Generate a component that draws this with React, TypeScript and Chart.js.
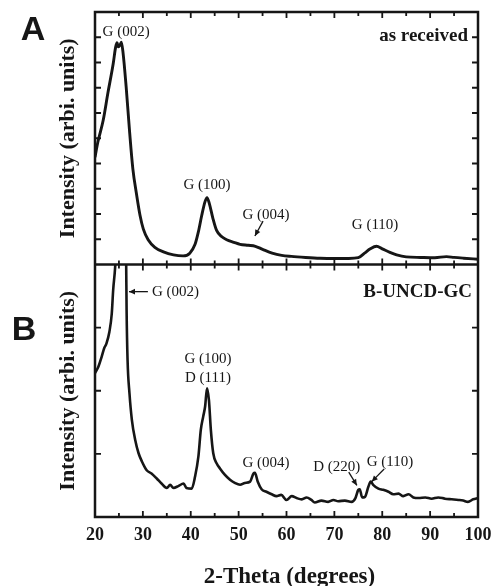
import React, { useEffect, useRef } from "react";
import { Chart, registerables } from "chart.js";

Chart.register(...registerables);

// ---------- data ----------
const thetaA = [
  20, 20.6, 21.7, 22.7, 23.8, 24.3, 24.6, 24.9, 25.2, 25.5, 25.85, 26.5, 27.25, 27.9, 28.7, 29.4, 30.1, 31.1, 32.5, 34.3,
  36.4, 38.4, 39.8, 40.9, 41.6, 42.3, 43.0, 43.4, 43.9, 44.6, 45.4, 46.5, 47.5, 49, 50.3, 52, 53.5, 55, 57, 59,
  61, 64, 67, 70, 73, 75, 76.3, 77.5, 78.8, 80, 81.6, 83, 85, 88, 91, 93.4, 95, 97, 100,
];
const intensityA = [
  4.25, 4.85, 5.7, 6.8, 7.95, 8.6, 8.78, 8.62, 8.68, 8.8, 8.4, 7.05, 5.2, 3.8, 2.75, 1.95, 1.4, 0.98, 0.68, 0.5,
  0.38, 0.34, 0.45, 0.8, 1.3, 1.95, 2.5, 2.65, 2.4, 1.85, 1.35, 1.1, 0.98, 0.88, 0.8, 0.76, 0.72, 0.6, 0.45, 0.36,
  0.32, 0.28, 0.25, 0.24, 0.24, 0.27, 0.45, 0.62, 0.72, 0.62, 0.48, 0.38, 0.3, 0.28, 0.27, 0.31, 0.28, 0.25, 0.21,
];

const thetaB = [
  20, 20.7, 21.4, 21.9, 22.4, 23.0, 23.5, 23.8, 24.2, 24.6, 25.2, 25.8, 26.3, 26.5, 26.6, 26.8, 27.2, 27.7, 28.4, 29.1,
  29.8, 30.8, 31.8, 32.9, 33.9, 35, 35.7, 36.4, 37.4, 38.5, 39.1, 40.2, 40.9, 41.6, 42.1, 42.6, 43, 43.4, 43.8, 44.2,
  44.7, 45.4, 46.1, 47.1, 48.2, 49.2, 50.3, 51.3, 52.4, 53.1, 53.4, 54, 54.8, 55.8, 56.9, 57.9, 58.9, 60, 61.1, 62.1,
  63.2, 64.2, 65.2, 65.9, 67.3, 68.7, 69.8, 70.8, 72.2, 73.6, 74.4, 75, 75.3, 75.8, 76.4, 77.1, 77.6, 78.1, 79.2, 80.2,
  81.3, 82.3, 83.4, 84.4, 85.5, 86.5, 87.6, 89, 90.3, 91.7, 93.1, 94.5, 95.9, 96.9, 97.9, 99, 100,
];
const intensityB = [
  2.28, 2.38, 2.54, 2.67, 2.75, 2.93, 3.22, 3.6, 3.95, 4.6, 5.4, 5.2, 4.5, 4.1, 3.28, 2.49, 1.96, 1.54, 1.22, 1.01,
  0.88, 0.74, 0.69, 0.61, 0.53, 0.46, 0.51, 0.46, 0.49, 0.53, 0.46, 0.45, 0.64, 0.96, 1.38, 1.59, 1.75, 2.04, 1.85, 1.38,
  1.01, 0.85, 0.77, 0.67, 0.59, 0.54, 0.51, 0.54, 0.56, 0.69, 0.7, 0.56, 0.44, 0.4, 0.36, 0.33, 0.35, 0.27, 0.33, 0.3,
  0.28, 0.31, 0.27, 0.23, 0.26, 0.24, 0.27, 0.25, 0.26, 0.24, 0.3, 0.43, 0.44, 0.31, 0.32, 0.48, 0.56, 0.51, 0.45, 0.43,
  0.4, 0.36, 0.37, 0.33, 0.36, 0.31, 0.3, 0.31, 0.29, 0.31, 0.29, 0.28, 0.27, 0.26, 0.24, 0.28, 0.3,
];

const xTickLabels = [20, 30, 40, 50, 60, 70, 80, 90, 100];
const xMinorTicks = [25, 35, 45, 55, 65, 75, 85, 95];
const yTicksA = [1, 2, 3, 4, 5, 6, 7, 8, 9];
const yTicksB = [1, 2, 3];

const xTitle = "2-Theta (degrees)";
const yTitle = "Intensity (arbi. units)";
const panelLetters = ["A", "B"];
const sampleNames = ["as received", "B-UNCD-GC"];

// peak annotations: [panel, text, theta, intensity]
const peakLabels: [string, string, number, number][] = [
  ["A", "G (002)", 26.5, 9.2],
  ["A", "G (100)", 43.4, 3.15],
  ["A", "G (004)", 55.7, 1.96],
  ["A", "G (110)", 78.5, 1.56],
  ["B", "G (100)", 43.6, 2.5],
  ["B", "D (111)", 43.6, 2.2],
  ["B", "G (004)", 55.7, 0.86],
  ["B", "D (220)", 70.5, 0.79],
  ["B", "G (110)", 81.6, 0.87],
];
// arrows: [panel, fromTheta, fromI, toTheta, toI]
const peakArrows: [string, number, number, number, number][] = [
  ["A", 55.1, 1.72, 53.4, 1.13],
  ["B", 31.05, 3.57, 27.1, 3.57],
  ["B", 73.0, 0.71, 74.7, 0.5],
  ["B", 80.4, 0.76, 77.8, 0.56],
];
const sideLabelB = { text: "G (002)", theta: 31.9, intensity: 3.57 };

const SERIF = '"Liberation Serif", "Times New Roman", serif';
const SANS = '"Liberation Sans", Arial, sans-serif';
const INK = "#161616";

export default function App() {
  const ref = useRef<HTMLCanvasElement | null>(null);

  useEffect(() => {
    const canvas = ref.current;
    if (!canvas) return;

    const clipPlugin = {
      id: "panelClip",
      beforeDatasetDraw(chart: any, args: any) {
        const { ctx, chartArea } = chart;
        const mid = chart.scales.yA.getPixelForValue(0);
        ctx.save();
        ctx.beginPath();
        if (args.index === 0) {
          ctx.rect(chartArea.left, chartArea.top, chartArea.right - chartArea.left, mid - chartArea.top);
        } else {
          ctx.rect(chartArea.left, mid, chartArea.right - chartArea.left, chartArea.bottom - mid);
        }
        ctx.clip();
      },
      afterDatasetDraw(chart: any) {
        chart.ctx.restore();
      },
    };

    const decorPlugin = {
      id: "decor",
      afterDraw(chart: any) {
        const { ctx, chartArea } = chart;
        const x = chart.scales.x;
        const yA = chart.scales.yA;
        const yB = chart.scales.yB;
        const L = chartArea.left, R = chartArea.right, T = chartArea.top, B = chartArea.bottom;
        const M = yA.getPixelForValue(0);
        ctx.save();
        ctx.strokeStyle = INK;
        ctx.fillStyle = INK;
        ctx.lineCap = "butt";

        // frame
        ctx.lineWidth = 2.5;
        ctx.strokeRect(L, T, R - L, B - T);
        ctx.beginPath();
        ctx.moveTo(L, M);
        ctx.lineTo(R, M);
        ctx.stroke();

        // x ticks (inward, on every horizontal edge)
        ctx.lineWidth = 1.8;
        const drawXTick = (v: number, len: number) => {
          const px = x.getPixelForValue(v);
          ctx.beginPath();
          ctx.moveTo(px, T); ctx.lineTo(px, T + len);
          ctx.moveTo(px, M); ctx.lineTo(px, M - len);
          ctx.moveTo(px, M); ctx.lineTo(px, M + len);
          ctx.moveTo(px, B); ctx.lineTo(px, B - len);
          ctx.stroke();
        };
        xTickLabels.forEach((v) => drawXTick(v, 6));
        xMinorTicks.forEach((v) => drawXTick(v, 4));

        // y ticks
        const drawYTick = (py: number) => {
          ctx.beginPath();
          ctx.moveTo(L, py); ctx.lineTo(L + 6, py);
          ctx.moveTo(R, py); ctx.lineTo(R - 6, py);
          ctx.stroke();
        };
        yTicksA.forEach((v) => drawYTick(yA.getPixelForValue(v)));
        yTicksB.forEach((v) => drawYTick(yB.getPixelForValue(v)));

        // x tick labels
        ctx.font = `bold 18px ${SERIF}`;
        ctx.textAlign = "center";
        ctx.textBaseline = "alphabetic";
        xTickLabels.forEach((v) => ctx.fillText(String(v), x.getPixelForValue(v), B + 23));

        // x title
        ctx.font = `bold 23px ${SERIF}`;
        ctx.fillText(xTitle, (L + R) / 2 + 3, B + 66);

        // y titles
        ctx.font = `bold 22px ${SERIF}`;
        [(T + M) / 2, (M + B) / 2].forEach((cy) => {
          ctx.save();
          ctx.translate(L - 21, cy);
          ctx.rotate(-Math.PI / 2);
          ctx.textAlign = "center";
          ctx.textBaseline = "alphabetic";
          ctx.fillText(yTitle, 0, 0);
          ctx.restore();
        });

        // panel letters
        ctx.font = `bold 34px ${SANS}`;
        ctx.textAlign = "center";
        ctx.textBaseline = "middle";
        ctx.fillText(panelLetters[0], 33, T + 19);
        ctx.fillText(panelLetters[1], 24, M + 66);

        // sample names
        ctx.font = `bold 19px ${SERIF}`;
        ctx.textAlign = "right";
        ctx.textBaseline = "alphabetic";
        ctx.fillText(sampleNames[0], R - 10, T + 29);
        ctx.fillText(sampleNames[1], R - 6, M + 32);

        // peak labels
        ctx.font = `15px ${SERIF}`;
        ctx.textAlign = "center";
        ctx.textBaseline = "middle";
        peakLabels.forEach(([p, t, th, iv]) => {
          const ys = p === "A" ? yA : yB;
          ctx.fillText(t, x.getPixelForValue(th), ys.getPixelForValue(iv));
        });
        ctx.textAlign = "left";
        ctx.fillText(sideLabelB.text, x.getPixelForValue(sideLabelB.theta), yB.getPixelForValue(sideLabelB.intensity));

        // arrows
        ctx.lineWidth = 1.3;
        peakArrows.forEach(([p, t1, i1, t2, i2]) => {
          const ys = p === "A" ? yA : yB;
          const x1 = x.getPixelForValue(t1), y1 = ys.getPixelForValue(i1);
          const x2 = x.getPixelForValue(t2), y2 = ys.getPixelForValue(i2);
          ctx.beginPath();
          ctx.moveTo(x1, y1);
          ctx.lineTo(x2, y2);
          ctx.stroke();
          const ang = Math.atan2(y2 - y1, x2 - x1);
          const hl = 6, hw = 2.8;
          ctx.beginPath();
          ctx.moveTo(x2, y2);
          ctx.lineTo(x2 - hl * Math.cos(ang) + hw * Math.sin(ang), y2 - hl * Math.sin(ang) - hw * Math.cos(ang));
          ctx.lineTo(x2 - hl * Math.cos(ang) - hw * Math.sin(ang), y2 - hl * Math.sin(ang) + hw * Math.cos(ang));
          ctx.closePath();
          ctx.fill();
        });

        ctx.restore();
      },
    };

    const chart = new Chart(canvas, {
      type: "line",
      data: {
        datasets: [
          {
            label: "as received",
            data: thetaA.map((t, i) => ({ x: t, y: intensityA[i] })),
            xAxisID: "x",
            yAxisID: "yA",
            borderWidth: 2.9,
          },
          {
            label: "B-UNCD-GC",
            data: thetaB.map((t, i) => ({ x: t, y: intensityB[i] })),
            xAxisID: "x",
            yAxisID: "yB",
            borderWidth: 2.6,
          },
        ],
      },
      options: {
        responsive: false,
        animation: false,
        events: [],
        layout: { padding: { left: 95, right: 17, top: 12, bottom: 69 } },
        elements: {
          point: { radius: 0 },
          line: { borderColor: INK, borderWidth: 2.6, cubicInterpolationMode: "monotone", borderJoinStyle: "round" },
        },
        scales: {
          x: { type: "linear", min: 20, max: 100, display: false },
          yA: { type: "linear", min: -10, max: 10, display: false },
          yB: { type: "linear", min: 0, max: 8, display: false },
        },
        plugins: { legend: { display: false }, tooltip: { enabled: false } },
      },
      plugins: [clipPlugin, decorPlugin],
    } as any);

    return () => chart.destroy();
  }, []);

  return (
    <div style={{ position: "fixed", left: 0, top: 0, width: 495, height: 586, background: "#fff" }}>
      <canvas ref={ref} width={495} height={586} style={{ display: "block" }} />
    </div>
  );
}
